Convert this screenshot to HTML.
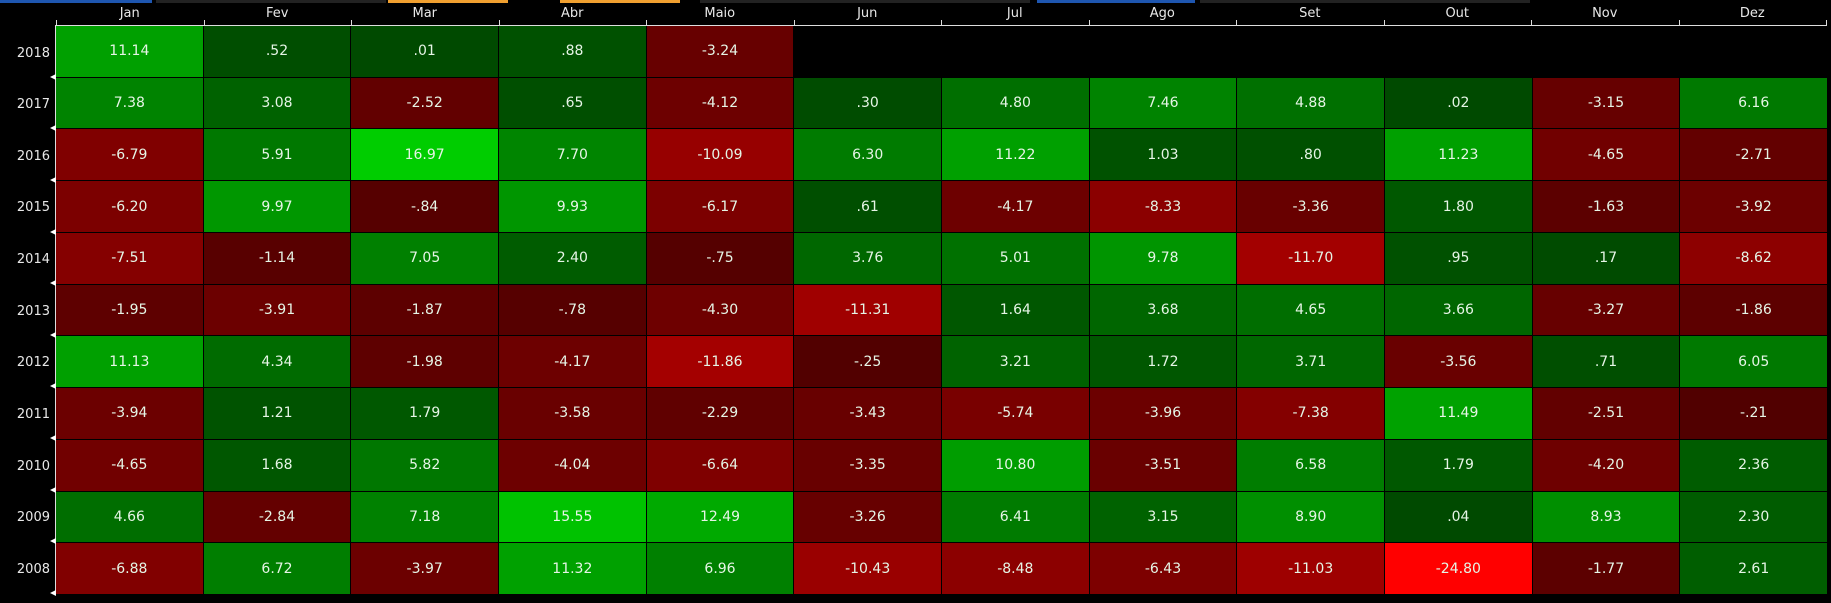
<!DOCTYPE html>
<html><head><meta charset="utf-8"><style>
html,body{margin:0;padding:0;background:#000;width:1831px;height:603px;overflow:hidden;font-family:"DejaVu Sans","Liberation Sans",sans-serif;}
.strip{position:absolute;top:0;height:3px}
.hdr{position:absolute;top:0;left:56px;width:1770px;height:25px;display:grid;grid-template-columns:repeat(12,1fr)}
.hdr div{color:#e8e8e8;font-size:13px;text-align:center;line-height:28px}
.grid{position:absolute;left:56px;top:25px;width:1771px;height:569px;display:grid;grid-template-columns:repeat(12,1fr);grid-template-rows:repeat(11,1fr);gap:1px;background:#000;border-top:1px solid #ddd;box-sizing:border-box}
.grid div{color:#e6f5e6;font-size:14px;display:flex;align-items:center;justify-content:center}
.yl{position:absolute;left:0;width:50px;text-align:right;color:#e8e8e8;font-size:13px}
.vl{position:absolute;left:55px;top:25px;width:1px;height:569px;background:#ddd}
.tk{position:absolute;top:20px;width:1px;height:5px;background:#ddd}
.tri{position:absolute;left:50px;width:0;height:0;border-top:3px solid transparent;border-bottom:3px solid transparent;border-right:6px solid #fff}
</style></head><body>
<div class="strip" style="left:0;width:152px;background:#1e56b0"></div>
<div class="strip" style="left:156px;width:230px;background:#222"></div>
<div class="strip" style="left:388px;width:120px;background:#f0a030"></div>
<div class="strip" style="left:560px;width:120px;background:#f0a030"></div>
<div class="strip" style="left:700px;width:330px;background:#222"></div>
<div class="strip" style="left:1037px;width:158px;background:#1e56b0"></div>
<div class="strip" style="left:1200px;width:330px;background:#222"></div>
<div class="hdr"><div>Jan</div><div>Fev</div><div>Mar</div><div>Abr</div><div>Maio</div><div>Jun</div><div>Jul</div><div>Ago</div><div>Set</div><div>Out</div><div>Nov</div><div>Dez</div></div>
<div class="tk" style="left:56px"></div><div class="tk" style="left:204px"></div><div class="tk" style="left:351px"></div><div class="tk" style="left:499px"></div><div class="tk" style="left:646px"></div><div class="tk" style="left:794px"></div><div class="tk" style="left:941px"></div><div class="tk" style="left:1089px"></div><div class="tk" style="left:1236px"></div><div class="tk" style="left:1384px"></div><div class="tk" style="left:1531px"></div><div class="tk" style="left:1679px"></div><div class="tk" style="left:1826px"></div>
<div class="vl"></div>
<div class="yl" style="top:46px">2018</div>
<div class="yl" style="top:97px">2017</div>
<div class="yl" style="top:149px">2016</div>
<div class="yl" style="top:200px">2015</div>
<div class="yl" style="top:252px">2014</div>
<div class="yl" style="top:304px">2013</div>
<div class="yl" style="top:355px">2012</div>
<div class="yl" style="top:407px">2011</div>
<div class="yl" style="top:459px">2010</div>
<div class="yl" style="top:510px">2009</div>
<div class="yl" style="top:562px">2008</div>
<div class="tri" style="top:74px"></div><div class="tri" style="top:125px"></div><div class="tri" style="top:177px"></div><div class="tri" style="top:229px"></div><div class="tri" style="top:280px"></div><div class="tri" style="top:332px"></div><div class="tri" style="top:383px"></div><div class="tri" style="top:435px"></div><div class="tri" style="top:487px"></div><div class="tri" style="top:538px"></div><div class="tri" style="top:590px"></div>
<div class="grid">
<div style="background:rgb(0,160,0)">11.14</div><div style="background:rgb(0,78,0)">.52</div><div style="background:rgb(0,74,0)">.01</div><div style="background:rgb(0,81,0)">.88</div><div style="background:rgb(103,0,0)">-3.24</div><div></div><div></div><div></div><div></div><div></div><div></div><div></div>
<div style="background:rgb(0,131,0)">7.38</div><div style="background:rgb(0,98,0)">3.08</div><div style="background:rgb(98,0,0)">-2.52</div><div style="background:rgb(0,79,0)">.65</div><div style="background:rgb(109,0,0)">-4.12</div><div style="background:rgb(0,76,0)">.30</div><div style="background:rgb(0,111,0)">4.80</div><div style="background:rgb(0,131,0)">7.46</div><div style="background:rgb(0,112,0)">4.88</div><div style="background:rgb(0,74,0)">.02</div><div style="background:rgb(102,0,0)">-3.15</div><div style="background:rgb(0,121,0)">6.16</div>
<div style="background:rgb(128,0,0)">-6.79</div><div style="background:rgb(0,120,0)">5.91</div><div style="background:rgb(0,205,0)">16.97</div><div style="background:rgb(0,133,0)">7.70</div><div style="background:rgb(151,0,0)">-10.09</div><div style="background:rgb(0,123,0)">6.30</div><div style="background:rgb(0,160,0)">11.22</div><div style="background:rgb(0,82,0)">1.03</div><div style="background:rgb(0,80,0)">.80</div><div style="background:rgb(0,160,0)">11.23</div><div style="background:rgb(113,0,0)">-4.65</div><div style="background:rgb(99,0,0)">-2.71</div>
<div style="background:rgb(124,0,0)">-6.20</div><div style="background:rgb(0,151,0)">9.97</div><div style="background:rgb(86,0,0)">-.84</div><div style="background:rgb(0,150,0)">9.93</div><div style="background:rgb(124,0,0)">-6.17</div><div style="background:rgb(0,79,0)">.61</div><div style="background:rgb(109,0,0)">-4.17</div><div style="background:rgb(139,0,0)">-8.33</div><div style="background:rgb(104,0,0)">-3.36</div><div style="background:rgb(0,88,0)">1.80</div><div style="background:rgb(92,0,0)">-1.63</div><div style="background:rgb(108,0,0)">-3.92</div>
<div style="background:rgb(133,0,0)">-7.51</div><div style="background:rgb(88,0,0)">-1.14</div><div style="background:rgb(0,128,0)">7.05</div><div style="background:rgb(0,92,0)">2.40</div><div style="background:rgb(85,0,0)">-.75</div><div style="background:rgb(0,103,0)">3.76</div><div style="background:rgb(0,113,0)">5.01</div><div style="background:rgb(0,149,0)">9.78</div><div style="background:rgb(163,0,0)">-11.70</div><div style="background:rgb(0,81,0)">.95</div><div style="background:rgb(0,75,0)">.17</div><div style="background:rgb(141,0,0)">-8.62</div>
<div style="background:rgb(94,0,0)">-1.95</div><div style="background:rgb(108,0,0)">-3.91</div><div style="background:rgb(93,0,0)">-1.87</div><div style="background:rgb(86,0,0)">-.78</div><div style="background:rgb(110,0,0)">-4.30</div><div style="background:rgb(160,0,0)">-11.31</div><div style="background:rgb(0,87,0)">1.64</div><div style="background:rgb(0,102,0)">3.68</div><div style="background:rgb(0,110,0)">4.65</div><div style="background:rgb(0,102,0)">3.66</div><div style="background:rgb(103,0,0)">-3.27</div><div style="background:rgb(93,0,0)">-1.86</div>
<div style="background:rgb(0,160,0)">11.13</div><div style="background:rgb(0,107,0)">4.34</div><div style="background:rgb(94,0,0)">-1.98</div><div style="background:rgb(109,0,0)">-4.17</div><div style="background:rgb(164,0,0)">-11.86</div><div style="background:rgb(82,0,0)">-.25</div><div style="background:rgb(0,99,0)">3.21</div><div style="background:rgb(0,87,0)">1.72</div><div style="background:rgb(0,103,0)">3.71</div><div style="background:rgb(105,0,0)">-3.56</div><div style="background:rgb(0,79,0)">.71</div><div style="background:rgb(0,121,0)">6.05</div>
<div style="background:rgb(108,0,0)">-3.94</div><div style="background:rgb(0,83,0)">1.21</div><div style="background:rgb(0,88,0)">1.79</div><div style="background:rgb(105,0,0)">-3.58</div><div style="background:rgb(96,0,0)">-2.29</div><div style="background:rgb(104,0,0)">-3.43</div><div style="background:rgb(121,0,0)">-5.74</div><div style="background:rgb(108,0,0)">-3.96</div><div style="background:rgb(132,0,0)">-7.38</div><div style="background:rgb(0,162,0)">11.49</div><div style="background:rgb(98,0,0)">-2.51</div><div style="background:rgb(81,0,0)">-.21</div>
<div style="background:rgb(113,0,0)">-4.65</div><div style="background:rgb(0,87,0)">1.68</div><div style="background:rgb(0,119,0)">5.82</div><div style="background:rgb(109,0,0)">-4.04</div><div style="background:rgb(127,0,0)">-6.64</div><div style="background:rgb(104,0,0)">-3.35</div><div style="background:rgb(0,157,0)">10.80</div><div style="background:rgb(105,0,0)">-3.51</div><div style="background:rgb(0,125,0)">6.58</div><div style="background:rgb(0,88,0)">1.79</div><div style="background:rgb(110,0,0)">-4.20</div><div style="background:rgb(0,92,0)">2.36</div>
<div style="background:rgb(0,110,0)">4.66</div><div style="background:rgb(100,0,0)">-2.84</div><div style="background:rgb(0,129,0)">7.18</div><div style="background:rgb(0,194,0)">15.55</div><div style="background:rgb(0,170,0)">12.49</div><div style="background:rgb(103,0,0)">-3.26</div><div style="background:rgb(0,123,0)">6.41</div><div style="background:rgb(0,98,0)">3.15</div><div style="background:rgb(0,143,0)">8.90</div><div style="background:rgb(0,74,0)">.04</div><div style="background:rgb(0,143,0)">8.93</div><div style="background:rgb(0,92,0)">2.30</div>
<div style="background:rgb(129,0,0)">-6.88</div><div style="background:rgb(0,126,0)">6.72</div><div style="background:rgb(108,0,0)">-3.97</div><div style="background:rgb(0,161,0)">11.32</div><div style="background:rgb(0,128,0)">6.96</div><div style="background:rgb(154,0,0)">-10.43</div><div style="background:rgb(140,0,0)">-8.48</div><div style="background:rgb(125,0,0)">-6.43</div><div style="background:rgb(158,0,0)">-11.03</div><div style="background:rgb(255,0,0)">-24.80</div><div style="background:rgb(92,0,0)">-1.77</div><div style="background:rgb(0,94,0)">2.61</div>
</div>
</body></html>
